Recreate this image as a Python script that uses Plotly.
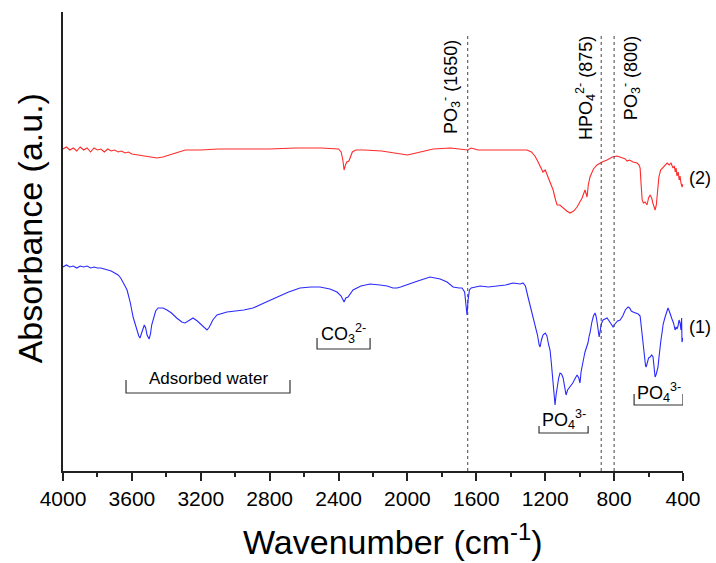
import plotly.graph_objects as go

# ---------------- data (wavenumber in cm^-1, absorbance in arbitrary units) ----------------
wn_2 = [4000, 3980, 3960, 3940, 3920, 3900, 3880, 3860, 3840, 3820, 3800, 3780, 3760, 3740, 3720,
        3700, 3680, 3660, 3640, 3620, 3600, 3560, 3520, 3480, 3454, 3420, 3380, 3330, 3290, 3200,
        3100, 3000, 2900, 2800, 2650, 2500, 2400, 2385, 2375, 2368, 2360, 2352, 2340, 2330, 2320,
        2300, 2250, 2150, 2083, 2040, 2000, 1950, 1900, 1850, 1750, 1680, 1650, 1630, 1610, 1590,
        1500, 1400, 1306, 1280, 1260, 1247, 1230, 1213, 1200, 1180, 1165, 1154, 1140, 1131, 1115,
        1096, 1075, 1056, 1035, 1015, 1000, 986, 969, 962, 957, 950, 940, 920, 899, 870,
        841, 810, 783, 750, 735, 725, 710, 690, 667, 655, 649, 643, 637, 630, 620,
        609, 600, 591, 582, 575, 562, 555, 548, 540, 530, 516, 500, 492, 480, 470,
        458, 450, 445, 440, 435, 428, 422, 417, 412, 405, 400]
abs_2 = [322, 324, 321, 323, 320, 324, 321, 323, 319, 323, 321, 322, 319, 322, 320,
         321, 319, 320, 318, 319, 317, 316, 315, 314, 313, 314, 316, 319, 321, 321,
         322, 322, 322, 322, 323, 323, 322, 319, 311, 301, 306, 309, 310, 314, 319,
         321, 321, 320, 318, 317, 316, 318, 320, 322, 323, 322, 321, 323, 322, 321,
         321, 321, 321, 319, 315, 311, 305, 299, 301, 293, 286, 281, 271, 266, 266,
         263, 260, 258, 260, 264, 268, 273, 281, 276, 274, 286, 294, 302, 306, 309,
         311, 314, 315, 313, 312, 310, 311, 309, 308, 306, 303, 286, 271, 268, 269,
         266, 273, 276, 273, 268, 261, 266, 281, 294, 301, 304, 307, 308, 306, 308,
         303, 305, 299, 303, 295, 299, 291, 295, 288, 284, 287]

wn_1 = [4000, 3980, 3960, 3940, 3920, 3900, 3880, 3860, 3840, 3820, 3800, 3780, 3760, 3740, 3720,
        3700, 3680, 3665, 3650, 3640, 3628, 3610, 3593, 3580, 3570, 3560, 3553, 3545, 3535, 3528,
        3520, 3512, 3500, 3492, 3485, 3477, 3462, 3448, 3420, 3396, 3370, 3340, 3310, 3291, 3265,
        3245, 3220, 3190, 3164, 3150, 3130, 3106, 3048, 2950, 2897, 2820, 2757, 2690, 2624, 2560,
        2508, 2450, 2409, 2385, 2368, 2358, 2345, 2330, 2316, 2270, 2217, 2160, 2118, 2084, 2060,
        2040, 2002, 1940, 1869, 1810, 1770, 1735, 1700, 1683, 1668, 1660, 1654, 1648, 1640, 1630,
        1578, 1530, 1480, 1430, 1387, 1345, 1329, 1315, 1300, 1280, 1259, 1245, 1235, 1230, 1222,
        1213, 1200, 1190, 1180, 1172, 1165, 1160, 1155, 1148, 1143, 1137, 1131, 1122, 1114, 1105,
        1096, 1088, 1079, 1070, 1056, 1040, 1025, 1015, 1005, 998, 992, 986, 975, 969, 960,
        952, 945, 940, 929, 920, 911, 905, 899, 893, 887, 880, 875, 864, 850, 841,
        825, 815, 806, 795, 780, 765, 750, 735, 719, 710, 700, 690, 675, 660, 649,
        644, 638, 632, 625, 618, 614, 607, 600, 591, 582, 574, 568, 562, 555, 548,
        545, 540, 535, 528, 522, 515, 504, 495, 487, 480, 475, 468, 464, 455, 446,
        440, 435, 429, 423, 417, 412, 408, 406, 400]
abs_1 = [204, 206, 204, 205, 203, 205, 204, 205, 203, 204, 203, 203, 202, 201, 200,
         198, 196, 193, 189, 185, 181, 169, 154, 146, 140, 135, 133, 137, 144, 146,
         143, 136, 132, 137, 146, 151, 160, 163, 163, 161, 158, 153, 149, 148, 151,
         153, 150, 145, 141, 144, 151, 156, 159, 161, 163, 169, 174, 179, 183, 184,
         184, 182, 179, 175, 169, 173, 174, 178, 181, 185, 187, 186, 185, 183, 183,
         184, 186, 190, 194, 192, 189, 184, 183, 183, 179, 166, 156, 171, 181, 183,
         185, 184, 185, 186, 188, 187, 188, 185, 174, 161, 148, 136, 126, 124, 131,
         136, 138, 135, 126, 121, 109, 99, 86, 73, 66, 76, 84, 93, 98, 97,
         93, 86, 76, 81, 84, 88, 93, 96, 93, 88, 99, 106, 114, 119, 124,
         128, 135, 138, 149, 155, 158, 155, 149, 141, 134, 141, 147, 151, 152, 153,
         149, 146, 144, 147, 150, 151, 155, 161, 164, 163, 160, 159, 158, 157, 155,
         146, 136, 126, 114, 106, 104, 109, 113, 114, 116, 114, 103, 94, 97, 101,
         104, 113, 123, 131, 138, 147, 154, 159, 163, 160, 157, 155, 152, 148, 141,
         144, 142, 145, 151, 148, 141, 153, 129, 133]

x_ticks = [4000, 3600, 3200, 2800, 2400, 2000, 1600, 1200, 800, 400]
x_tick_labels = [str(v) for v in x_ticks]

# reference band lines (cm^-1) and their labels
ref_lines = [1650, 875, 800]
ref_labels = ["PO<sub>3</sub><sup>-</sup> (1650)", "HPO<sub>4</sub><sup>2-</sup> (875)",
              "PO<sub>3</sub><sup>-</sup> (800)"]
ref_label_x = [1753, 969, 707]
ref_label_y = [384, 383, 393]

# bracketed band regions: start, end, bracket level, tick top, label
band_start = [3634, 2525, 1236, 684]
band_end = [2682, 2217, 951, 400]
band_level = [78, 122, 38, 66]
band_top = [91, 133, 45, 77]
band_labels = ["Adsorbed water", "CO<sub>3</sub><sup>2-</sup>",
               "PO<sub>4</sub><sup>3-</sup>", "PO<sub>4</sub><sup>3-</sup>"]
band_label_y = [93, 138, 52, 79]

series_names = ["(1)", "(2)"]
series_label_y = [144, 293]

FONT = "Liberation Sans, Arial, Helvetica, sans-serif"

fig = go.Figure()
fig.add_trace(go.Scatter(x=wn_1, y=abs_1, mode="lines", name="(1)",
                         line=dict(color="#2a2aff", width=1.1), showlegend=False))
fig.add_trace(go.Scatter(x=wn_2, y=abs_2, mode="lines", name="(2)",
                         line=dict(color="#ff2a2a", width=1.1), showlegend=False))

shapes = []
for xv in ref_lines:
    shapes.append(dict(type="line", xref="x", yref="y", x0=xv, x1=xv, y0=0, y1=436,
                       line=dict(color="#444444", width=1, dash="dot")))
for s, e, lv, tp in zip(band_start, band_end, band_level, band_top):
    shapes.append(dict(type="path", xref="x", yref="y",
                       path=f"M {s},{tp} L {s},{lv} L {e},{lv} L {e},{tp}",
                       line=dict(color="#333333", width=1.2)))

annotations = []
for xv, yv, t in zip(ref_label_x, ref_label_y, ref_labels):
    annotations.append(dict(x=xv, y=yv, xref="x", yref="y", text=t, textangle=-90,
                            showarrow=False, xanchor="center", yanchor="middle",
                            font=dict(size=18, color="black", family=FONT)))
for s, e, yv, t in zip(band_start, band_end, band_label_y, band_labels):
    annotations.append(dict(x=(s + e) / 2, y=yv, xref="x", yref="y", text=t,
                            showarrow=False, xanchor="center", yanchor="middle",
                            font=dict(size=18 if "water" not in t else 17, color="black", family=FONT)))
for nm, yv in zip(series_names, series_label_y):
    annotations.append(dict(x=1.027, y=yv, xref="paper", yref="y", text=nm, showarrow=False,
                            xanchor="center", yanchor="middle",
                            font=dict(size=18, color="black", family=FONT)))
# axis titles
annotations.append(dict(x=0.532, y=-0.150, xref="paper", yref="paper",
                        text="Wavenumber (cm<sup>-1</sup>)", showarrow=False,
                        xanchor="center", yanchor="middle",
                        font=dict(size=34, color="black", family=FONT)))
annotations.append(dict(x=-0.053, y=0.529, xref="paper", yref="paper",
                        text="Absorbance (a.u.)", textangle=-90, showarrow=False,
                        xanchor="center", yanchor="middle",
                        font=dict(size=34, color="black", family=FONT)))

fig.update_layout(
    width=716, height=563,
    margin=dict(l=63, r=33, t=12, b=92),
    paper_bgcolor="white", plot_bgcolor="white",
    font=dict(family=FONT, color="black"),
    shapes=shapes, annotations=annotations,
    showlegend=False,
)
fig.update_xaxes(range=[4000, 400], tickvals=x_ticks, ticktext=x_tick_labels,
                 showline=True, linecolor="#222222", linewidth=1.5,
                 ticks="outside", ticklen=8, tickwidth=1.5, tickcolor="#222222",
                 minor=dict(dtick=200, tick0=0, ticks="outside", ticklen=4,
                            tickwidth=1.5, tickcolor="#222222"),
                 tickfont=dict(size=21, color="black", family=FONT),
                 showgrid=False, zeroline=False)
fig.update_yaxes(range=[0, 459], showline=True, linecolor="#222222", linewidth=1.5,
                 showticklabels=False, ticks="", showgrid=False, zeroline=False)

fig.write_html("out.html", config={"displayModeBar": False},
               post_script="document.body.style.margin='0';document.body.style.overflow='hidden';")
